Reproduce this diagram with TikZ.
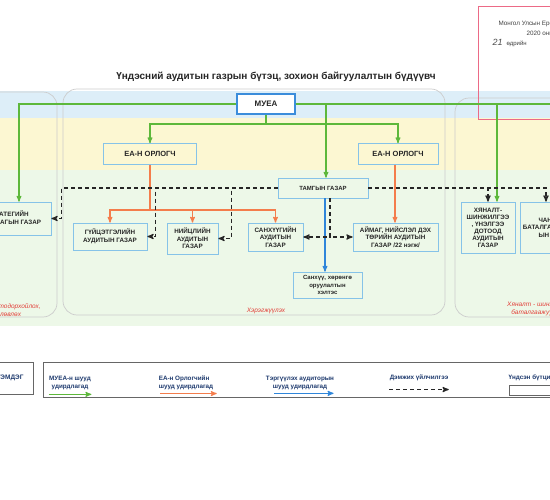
\documentclass[tikz,border=0pt]{standalone}
\usepackage{fontspec}
\setmainfont{Liberation Sans}
\usetikzlibrary{arrows,positioning}
\definecolor{bandblue}{HTML}{DDEEF8}
\definecolor{bandyellow}{HTML}{FCF7D2}
\definecolor{bandgreen}{HTML}{EDF8E8}
\definecolor{boxblue}{HTML}{86C3E8}
\definecolor{chiefblue}{HTML}{3B8DDB}
\definecolor{lgreen}{HTML}{5DB83B}
\definecolor{lorange}{HTML}{F47D4C}
\definecolor{lblue}{HTML}{2F86DA}
\definecolor{lred}{HTML}{E2403A}
\definecolor{navy}{HTML}{1E3A6E}
\definecolor{stampred}{HTML}{EC6A86}
\tikzset{
	>=stealth', % small solid heads
	unit/.style={draw=boxblue, line width=0.7pt, text=black!85, align=center, inner sep=1pt,
		font=\bfseries\fontsize{6.3}{7.5}\selectfont},
	chief/.style={unit, draw=chiefblue, line width=1.3pt, fill=white, font=\bfseries\fontsize{8}{9}\selectfont},
	deputy/.style={unit, font=\bfseries\fontsize{7.5}{9}\selectfont},
	muealine/.style={->, draw=lgreen, line width=1.1pt},
	orlline/.style={->, draw=lorange, line width=1.1pt},
	tergline/.style={->, draw=lblue, line width=1.1pt},
	supportline/.style={->, draw=black!85, line width=1.2pt, dash pattern=on 4pt off 3pt},
	container/.style={draw=black!20, line width=0.7pt, rounded corners=14pt},
	phase/.style={text=lred, align=center, font=\itshape\fontsize{6.5}{8}\selectfont},
	legendtext/.style={text=navy, align=center, font=\bfseries\fontsize{6.3}{8}\selectfont},
}

\begin{document}
\begin{tikzpicture}[x=1pt,y=-1pt]
	\useasboundingbox (0,0) rectangle (550,500);
	\fill[white] (0,0) rectangle (550,500);
	% level bands
	\fill[bandblue] (0,91) rectangle (550,118);
	\fill[bandyellow] (0,118) rectangle (550,170);
	\fill[bandgreen] (0,170) rectangle (550,326);
	\draw[container] (-30,92) rectangle (57,317);
	\draw[container] (63,89) rectangle (445,315);
	\draw[container] (455,98) rectangle (600,317);

	% stamp
	\draw[stampred, line width=0.8pt] (478,6) rectangle (600,119);
	\node[anchor=west, font=\fontsize{6.3}{7}\selectfont, text=black!75] (st1) at (495,24) {Монгол Улсын Ерөнхий аудиторын};
	\node[anchor=west, font=\fontsize{6.3}{7}\selectfont, text=black!75] (st2) at (523,33) {2020 оны};
	\node[anchor=west, font=\itshape\fontsize{9}{9}\selectfont, text=black!70] (st3) at (489,42) {21};
	\node[anchor=west, font=\fontsize{6}{7}\selectfont, text=black!75] (st4) at (503,44) {өдрийн};

	\node[font=\bfseries\fontsize{10}{12}\selectfont, text=black!85] (title) at (276,77)
		{Үндэсний аудитын газрын бүтэц, зохион байгуулалтын бүдүүвч};

	\node[chief, minimum width=58pt, minimum height=20pt] (muea) at (266,104) {МУЕА};
	\node[deputy, minimum width=93pt, minimum height=21pt] (orl1) at (150,154) {ЕА-Н ОРЛОГЧ};
	\node[deputy, minimum width=80pt, minimum height=21pt] (orl2) at (398,154) {ЕА-Н ОРЛОГЧ};
	\node[unit, font=\bfseries\fontsize{6}{7}\selectfont, minimum width=90pt, minimum height=20pt] (tamga) at (323,188) {ТАМГЫН ГАЗАР};

	\node[unit, minimum width=86pt, minimum height=33pt] (strat) at (8,218.5) {СТРАТЕГИЙН\\УДИРДЛАГЫН ГАЗАР};
	\node[unit, minimum width=74pt, minimum height=27pt] (guits) at (110,236.5) {ГҮЙЦЭТГЭЛИЙН\\АУДИТЫН ГАЗАР};
	\node[unit, minimum width=51pt, minimum height=31pt] (niits) at (192.5,238.5) {НИЙЦЛИЙН\\АУДИТЫН\\ГАЗАР};
	\node[unit, minimum width=55pt, minimum height=28pt] (sanh) at (275.5,237) {САНХҮҮГИЙН\\АУДИТЫН\\ГАЗАР};
	\node[unit, minimum width=85pt, minimum height=28pt] (aimag) at (395.5,237) {АЙМАГ, НИЙСЛЭЛ ДЭХ\\ТӨРИЙН АУДИТЫН\\ГАЗАР /22 нэгж/};
	\node[unit, font=\bfseries\fontsize{6}{7.5}\selectfont, minimum width=69pt, minimum height=26pt] (hel) at (327.5,285) {Санхүү, хөрөнгө\\оруулалтын\\хэлтэс};
	\node[unit, font=\bfseries\fontsize{6.3}{7}\selectfont, minimum width=54pt, minimum height=51pt] (hyan) at (488,227.5) {ХЯНАЛТ-\\ШИНЖИЛГЭЭ\\, ҮНЭЛГЭЭ\\ДОТООД\\АУДИТЫН\\ГАЗАР};
	\node[unit, minimum width=70pt, minimum height=51pt] (chan) at (555,227.5) {ЧАНАРЫН\\БАТАЛГААЖУУЛАЛТ\\ЫН ГАЗАР};

	% direct lines from the chief
	\coordinate (gsplit) at (266,124);
	\draw[muealine] (muea.west) -| ([xshift=11pt]strat.north);
	\draw[muealine] (muea.east) -| ([xshift=9pt]hyan.north);
	\draw[muealine] (muea.east) -| ([xshift=10pt]chan.north);
	\draw[muealine] (muea.east) -| ([xshift=3pt]tamga.north);
	\draw[muealine] (muea.south) -- (gsplit) -| (orl1.north);
	\draw[muealine] (gsplit) -| (orl2.north);

	% deputies
	\coordinate (osplit) at (150,210);
	\draw[orlline] (orl1.south) -- (osplit) -| (guits.north);
	\draw[orlline] (osplit) -| (niits.north);
	\draw[orlline] (osplit) -| (sanh.north);
	\draw[orlline] ([xshift=-3pt]orl2.south) -- ([xshift=-3pt]orl2.south |- aimag.north);

	\draw[tergline] ([xshift=2pt]tamga.south) -- ([xshift=2pt]tamga.south |- hel.north);

	% support services
	\draw[supportline] (tamga.west) -| ([xshift=10pt]strat.east) -- (strat.east);
	\draw[supportline] (tamga.west) -| ([xshift=8pt]guits.east) -- (guits.east);
	\draw[supportline] (tamga.west) -| ([xshift=13pt]niits.east) -- (niits.east);
	\draw[supportline] ([xshift=7pt]tamga.south) |- (sanh.east);
	\draw[supportline] ([xshift=7pt]tamga.south) |- (aimag.west);
	\draw[supportline] (tamga.east) -| (hyan.north);
	\draw[supportline] (tamga.east) -| ([xshift=-9pt]chan.north);

	\node[phase] (ph1) at (6,310) {Бодлого тодорхойлох,\\төлөвлөх};
	\node[phase] (ph2) at (266,311) {Хэрэгжүүлэх};
	\node[phase] (ph3) at (540,309) {Хяналт - шинжилгээ,\\баталгаажуулалт};

	% legend
	\node[draw=black!60, line width=0.7pt, minimum width=46pt, minimum height=32pt, text=navy,
		font=\bfseries\fontsize{6.5}{8}\selectfont] (tem) at (10,378) {ТЭМДЭГ};
	\node[draw=black!60, line width=0.7pt, minimum width=557pt, minimum height=35pt, anchor=north west] (legend) at (43,362) {};
	\node[legendtext] (lg1) at (70,383) {МУЕА-н шууд\\удирдлагад};
	\node[legendtext, align=left] (lg2) at (186,383) {ЕА-н Орлогчийн\\шууд удирдлагад};
	\node[legendtext] (lg3) at (300,383) {Тэргүүлэх аудиторын\\шууд удирдлагад};
	\node[legendtext] (lg4) at (419,378) {Дэмжих үйлчилгээ};
	\node[legendtext, anchor=west] (lg5) at (505,378) {Үндсэн бүтцийн нэгж};
	\draw[muealine] ([xshift=3pt,yshift=-1pt]lg1.south west) -- ([xshift=-3pt,yshift=-1pt]lg1.south east);
	\draw[orlline] ([xshift=5pt]lg2.south west) -- (lg2.south east);
	\draw[tergline] ([xshift=12pt]lg3.south west) -- ([xshift=-4pt]lg3.south east);
	\draw[supportline] ([xshift=3pt,yshift=-5pt]lg4.south west) -- ([xshift=-3pt,yshift=-5pt]lg4.south east);
	\node[draw=black!60, line width=0.6pt, minimum width=60pt, minimum height=10pt, anchor=north west] (lgbox) at (509,385) {};
\end{tikzpicture}
\end{document}
